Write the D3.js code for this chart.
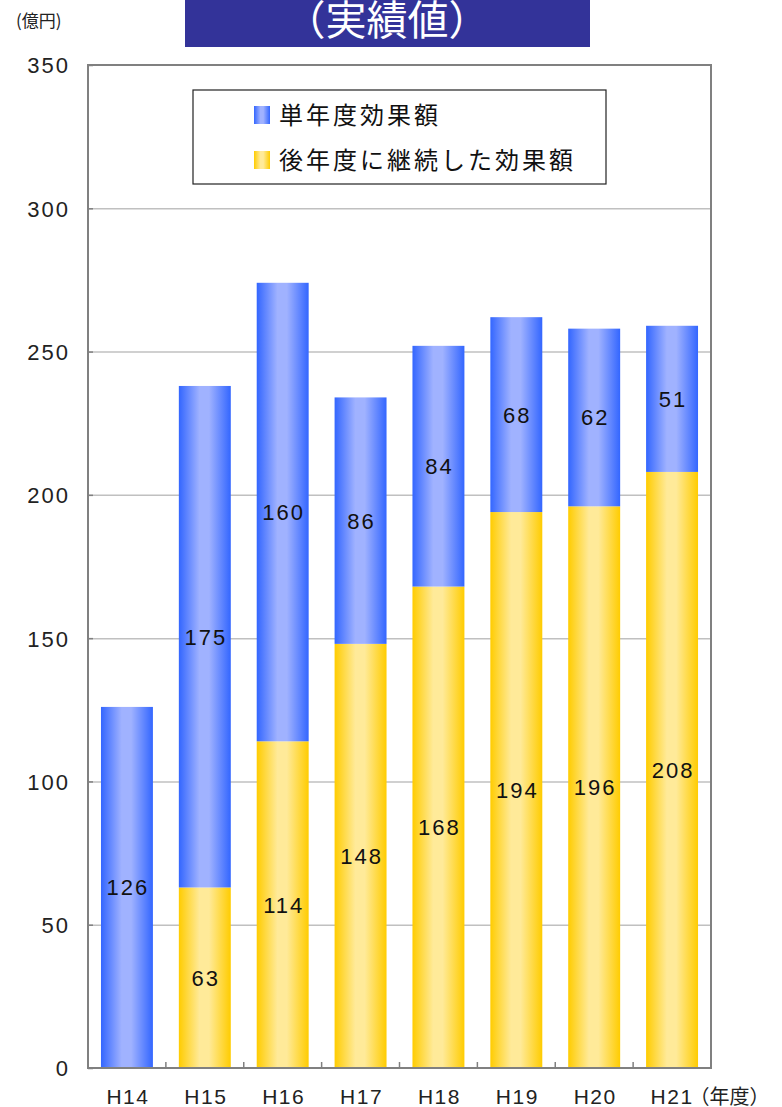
<!DOCTYPE html>
<html lang="ja">
<head>
<meta charset="utf-8">
<script src="https://cdn.jsdelivr.net/npm/d3@7"></script>
<style>
  html, body { margin: 0; padding: 0; background: #fff; }
  svg { display: block; }
  text { font-family: "Noto Sans CJK JP", "Noto Sans", sans-serif; }
  .num { font-family: "Liberation Sans", Arial, sans-serif; }
</style>
</head>
<body>
<svg id="chart" width="782" height="1107"></svg>
<script>
// 年度ごとの効果額（億円）
const years = ["H14", "H15", "H16", "H17", "H18", "H19", "H20", "H21"];
const continued = [0, 63, 114, 148, 168, 194, 196, 208];   // 後年度に継続した効果額
const singleYear = [126, 175, 160, 86, 84, 68, 62, 51];     // 単年度効果額
const yTicks = [0, 50, 100, 150, 200, 250, 300, 350];
const seriesNames = ["単年度効果額", "後年度に継続した効果額"];
const yearUnit = "（年度）";

const svg = d3.select("#chart");
const margin = { left: 88, top: 65, right: 711, bottom: 1068 };

const x = d3.scaleBand().domain(years).range([margin.left, margin.right]).paddingInner(0.333).paddingOuter(0.1665);
const xBound = d3.scaleBand().domain(years).range([margin.left, margin.right]);
const y = d3.scaleLinear().domain([0, 350]).range([margin.bottom, margin.top]);

// gradients
const defs = svg.append("defs");
function grad(id, edge, mid) {
  const g = defs.append("linearGradient").attr("id", id).attr("x1", "0").attr("x2", "1").attr("y1", "0").attr("y2", "0");
  g.append("stop").attr("offset", "0%").attr("stop-color", edge);
  g.append("stop").attr("offset", "40%").attr("stop-color", mid);
  g.append("stop").attr("offset", "58%").attr("stop-color", mid);
  g.append("stop").attr("offset", "100%").attr("stop-color", edge);
}
grad("gBlue", "#3366ff", "#a0b2ff");
grad("gYellow", "#ffcc00", "#ffea99");

// title banner
svg.append("rect").attr("x", 185).attr("y", 0).attr("width", 405).attr("height", 47).attr("fill", "#333399");
svg.append("text").attr("x", 387).attr("y", 35).attr("text-anchor", "middle")
  .attr("fill", "#fff").attr("font-size", 41).text("（実績値）");

// unit
svg.append("text").attr("x", 16).attr("y", 27).attr("font-size", 17).attr("fill", "#222").text("(億円)");

// gridlines
svg.append("g").selectAll("line").data(yTicks.slice(1, -1)).join("line")
  .attr("x1", margin.left).attr("x2", margin.right)
  .attr("y1", d => y(d) + 0.5).attr("y2", d => y(d) + 0.5)
  .attr("stroke", "#c0c0c0").attr("stroke-width", 1.5);

// y axis
const yAxis = svg.append("g").attr("transform", `translate(${margin.left},0)`)
  .call(d3.axisLeft(y).tickValues(yTicks).tickSize(-5).tickPadding(18));
yAxis.select(".domain").remove();
yAxis.selectAll(".tick line").attr("stroke", "#808080").attr("stroke-width", 1.5);
yAxis.selectAll(".tick text").attr("class", "num").attr("font-size", 22).attr("fill", "#222")
  .attr("letter-spacing", 2).attr("dy", "0.36em");

// stacked bars
const data = years.map((yr, i) => ({ yr, continued: continued[i], single: singleYear[i] }));
const stack = d3.stack().keys(["continued", "single"])(data);
const fills = { continued: "url(#gYellow)", single: "url(#gBlue)" };

svg.append("g").selectAll("g").data(stack).join("g")
  .attr("fill", s => fills[s.key])
  .selectAll("rect").data(s => s.filter(d => d[1] - d[0] > 0)).join("rect")
  .attr("x", d => x(d.data.yr)).attr("width", x.bandwidth())
  .attr("y", d => y(d[1])).attr("height", d => y(d[0]) - y(d[1]));

// value labels
svg.append("g").selectAll("g").data(stack).join("g")
  .selectAll("text").data(s => s.filter(d => d[1] - d[0] > 0)).join("text")
  .attr("class", "num")
  .attr("x", d => x(d.data.yr) + x.bandwidth() / 2 + 1)
  .attr("y", d => y((d[0] + d[1]) / 2) + 8)
  .attr("text-anchor", "middle").attr("font-size", 22).attr("letter-spacing", 2).attr("fill", "#111")
  .text(d => d[1] - d[0]);

// plot frame
svg.append("rect").attr("x", margin.left).attr("y", margin.top)
  .attr("width", margin.right - margin.left).attr("height", margin.bottom - margin.top)
  .attr("fill", "none").attr("stroke", "#808080").attr("stroke-width", 2);

// category boundary ticks
svg.append("g").selectAll("line").data(years.slice(1)).join("line")
  .attr("x1", d => xBound(d)).attr("x2", d => xBound(d))
  .attr("y1", margin.bottom).attr("y2", margin.bottom - 6)
  .attr("stroke", "#808080").attr("stroke-width", 1.5);

// x labels; the last one carries the unit right after the year
const xLabels = svg.append("g").selectAll("text").data(years).join("text")
  .attr("class", "num")
  .attr("x", d => x(d) + x.bandwidth() / 2 + 1).attr("y", 1104)
  .attr("text-anchor", "middle").attr("font-size", 21).attr("letter-spacing", 1.5).attr("fill", "#222")
  .text(d => d);
const lastLabel = xLabels.filter((d, i) => i === years.length - 1);
const lastW = lastLabel.node().getComputedTextLength();
lastLabel.attr("text-anchor", "start").attr("x", x(years[years.length - 1]) + x.bandwidth() / 2 - lastW / 2);
lastLabel.append("tspan")
  .attr("dx", -4)
  .style("font-family", "'Noto Sans CJK JP', sans-serif")
  .attr("font-size", 20).attr("letter-spacing", 0).text(yearUnit);

// legend
const lg = svg.append("g");
lg.append("rect").attr("x", 193).attr("y", 90).attr("width", 413).attr("height", 94)
  .attr("fill", "#fff").attr("stroke", "#222").attr("stroke-width", 1.2);
const legendFills = ["url(#gBlue)", "url(#gYellow)"];
seriesNames.forEach((name, i) => {
  const cy = 115 + i * 45;
  lg.append("rect").attr("x", 254).attr("y", cy - 9).attr("width", 16).attr("height", 18).attr("fill", legendFills[i]);
  lg.append("text").attr("x", 279).attr("y", cy + 9).attr("font-size", 24).attr("letter-spacing", 3)
    .attr("fill", "#111").text(name);
});
</script>
</body>
</html>
